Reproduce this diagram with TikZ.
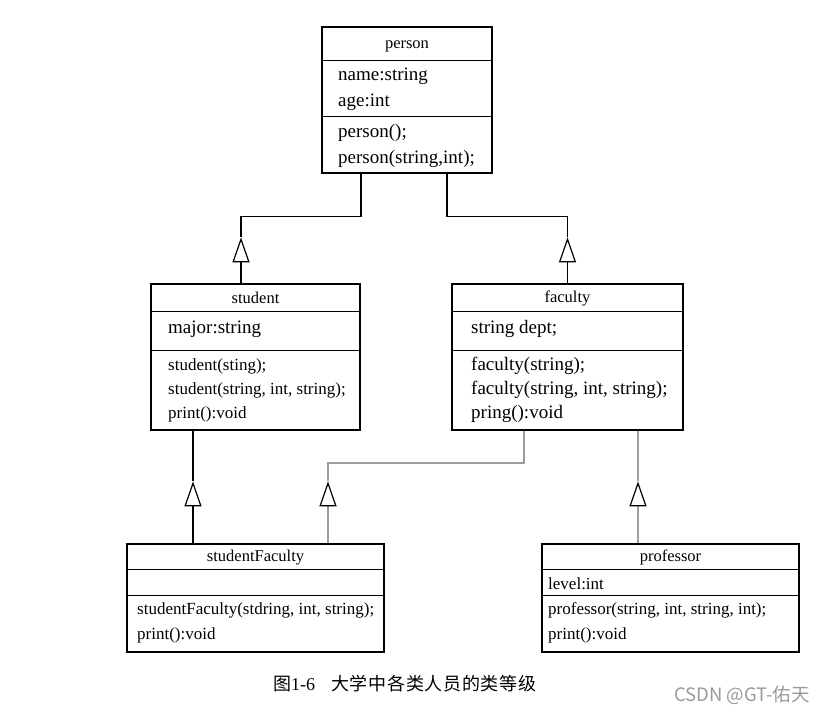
\documentclass[tikz,border=0pt]{standalone}
\usepackage{fontspec}
\setmainfont{Liberation Serif}
\newfontfamily\cjkfont[LetterSpace=4]{Noto Sans CJK SC}
\newfontfamily\wmfont{Noto Sans CJK SC}
\usetikzlibrary{arrows.meta,calc}
\definecolor{linkgray}{HTML}{9C9C9C}
\definecolor{wmgray}{HTML}{9A9A9A}
\begin{document}
\begin{tikzpicture}[x=1pt,y=-1pt,
  box/.style={draw, line width=1.3pt, inner sep=0pt},
  divider/.style={line width=1.3pt},
  head/.style={inner sep=0pt, font=\fontsize{16.5}{20}\selectfont},
  bigtxt/.style={inner sep=0pt, anchor=west, align=left, font=\fontsize{19}{26}\selectfont},
  bigtxtb/.style={inner sep=0pt, anchor=west, align=left, font=\fontsize{19}{24}\selectfont},
  smalltxt/.style={inner sep=0pt, anchor=west, align=left, font=\fontsize{17}{24}\selectfont},
  smalltxtc/.style={inner sep=0pt, anchor=west, align=left, font=\fontsize{17}{25}\selectfont},
  conn/.style={line width=1.5pt, black},
  gconn/.style={line width=1.9pt, linkgray},
  tri/.style={-{Triangle[open, length=25pt, width=17pt, color=black, line width=1.2pt]}}
]
\useasboundingbox (0,0) rectangle (838,716);

% ---------- boxes ----------
\node[box, minimum width=170pt, minimum height=146pt] (person) at (407,100) {};
\node[box, minimum width=209pt, minimum height=146pt] (student) at (255.5,357) {};
\node[box, minimum width=231pt, minimum height=146pt] (faculty) at (567.5,357) {};
\node[box, minimum width=257pt, minimum height=108pt] (sfac) at (255.5,598) {};
\node[box, minimum width=257pt, minimum height=108pt] (prof) at (670.5,598) {};

% ---------- dividers ----------
\draw[divider] ($(person.north west)+(0,34)$) -- ($(person.north east)+(0,34)$);
\draw[divider] ($(person.north west)+(0,90)$) -- ($(person.north east)+(0,90)$);
\draw[divider] ($(student.north west)+(0,28)$) -- ($(student.north east)+(0,28)$);
\draw[divider] ($(student.north west)+(0,67)$) -- ($(student.north east)+(0,67)$);
\draw[divider] ($(faculty.north west)+(0,28)$) -- ($(faculty.north east)+(0,28)$);
\draw[divider] ($(faculty.north west)+(0,67)$) -- ($(faculty.north east)+(0,67)$);
\draw[divider] ($(sfac.north west)+(0,26)$) -- ($(sfac.north east)+(0,26)$);
\draw[divider] ($(sfac.north west)+(0,52)$) -- ($(sfac.north east)+(0,52)$);
\draw[divider] ($(prof.north west)+(0,26)$) -- ($(prof.north east)+(0,26)$);
\draw[divider] ($(prof.north west)+(0,52)$) -- ($(prof.north east)+(0,52)$);

% ---------- texts ----------
\node[head] (tperson) at ($(person.north)+(0,20)$) {person};
\node[bigtxt] (pattr) at (338,89) {name:string\\age:int};
\node[bigtxt] (pmeth) at (338,146) {person();\\person(string,int);};

\node[head] (tstudent) at ($(student.north)+(0,14)$) {student};
\node[bigtxt] (sattr) at (168,329) {major:string};
\node[smalltxt] (smeth) at (168,390) {student(sting);\\student(string, int, string);\\print():void};

\node[head] (tfaculty) at ($(faculty.north)+(0,15)$) {faculty};
\node[bigtxt] (fattr) at (471,329) {string dept;};
\node[bigtxtb] (fmeth) at (471,390) {faculty(string);\\faculty(string, int, string);\\pring():void};

\node[head] (tsfac) at ($(sfac.north)+(0,14)$) {studentFaculty};
\node[smalltxtc] (sfmeth) at (137,623) {studentFaculty(stdring, int, string);\\print():void};

\node[head] (tprof) at ($(prof.north)+(0,14)$) {professor};
\node[smalltxt] (prattr) at (548,584) {level:int};
\node[smalltxtc] (prmeth) at (548,623) {professor(string, int, string, int);\\print():void};

% ---------- connectors ----------
\coordinate (aS) at ($(student.north)+(-14.5,-46)$);
\coordinate (aF) at ($(faculty.north)+(0,-46)$);
\coordinate (aSF1) at ($(sfac.north)+(-62.5,-62)$);
\coordinate (aSF2) at ($(sfac.north)+(72.5,-62)$);
\coordinate (aP) at ($(prof.north)+(-32.5,-62)$);

\draw[conn] ($(person.south)+(-46,0)$) -- ++(0,43) -| (aS);
\draw[conn,tri] ($(student.north)+(-14.5,0)$) -- (aS);

\draw[conn] ($(person.south)+(40,0)$) -- ++(0,43) -| (aF);
\draw[conn,tri] (faculty.north) -- (aF);

\draw[conn] ($(student.south)+(-62.5,0)$) -- (aSF1);
\draw[conn,tri] ($(sfac.north)+(-62.5,0)$) -- (aSF1);

\draw[gconn] ($(faculty.south)+(-43.5,0)$) -- ++(0,32) -| (aSF2);
\draw[gconn,tri] ($(sfac.north)+(72.5,0)$) -- (aSF2);

\draw[gconn] ($(faculty.south)+(70.5,0)$) -- (aP);
\draw[gconn,tri] ($(prof.north)+(-32.5,0)$) -- (aP);

% ---------- caption ----------
\node[inner sep=0pt, anchor=west, font=\fontsize{18}{20}\selectfont] (cap1) at (273,684) {{\cjkfont 图}1-6};
\node[inner sep=0pt, anchor=west, font=\cjkfont\fontsize{18}{20}\selectfont] (cap2) at (331,684) {大学中各类人员的类等级};
\node[inner sep=0pt, anchor=west, text=wmgray, font=\wmfont\fontsize{18.5}{20}\selectfont] (wm) at (674,695) {CSDN @GT-佑天};
\end{tikzpicture}
\end{document}
